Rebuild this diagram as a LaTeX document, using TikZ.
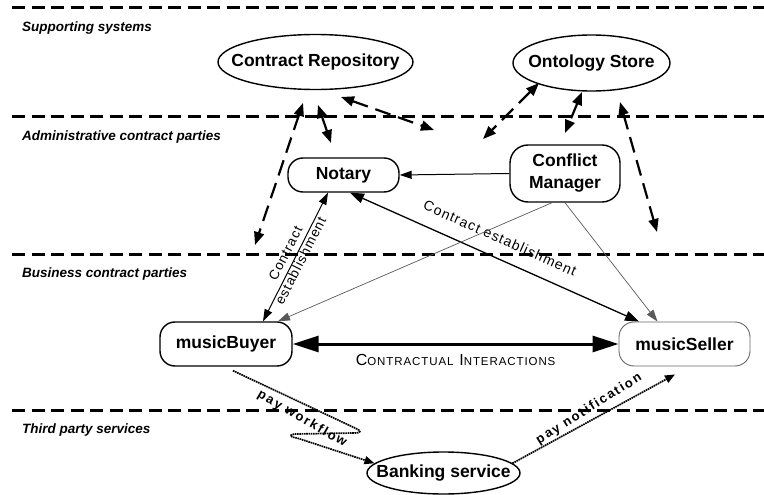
\documentclass[tikz,border=0pt]{standalone}
\usepackage{fontspec}
\setmainfont{Liberation Sans}
\newfontfamily\spacedsans[LetterSpace=8]{Liberation Sans}
\newfontfamily\widesans[LetterSpace=14]{Liberation Sans}
\usetikzlibrary{arrows.meta,shapes.geometric}

\tikzset{
  tbig/.tip={Triangle[length=26pt,width=16pt]},
  tmed/.tip={Triangle[length=14pt,width=10pt]},
  tsmall/.tip={Triangle[length=12pt,width=8pt]},
  tdash/.tip={Triangle[length=13pt,width=10pt]},
  tdot/.tip={Triangle[length=10pt,width=8pt]},
}

\begin{document}
\begin{tikzpicture}[x=1pt,y=-1pt,
  lane/.style={line width=3pt, dash pattern=on 13pt off 6.5pt},
  lanelabel/.style={anchor=base west, inner sep=0pt,
    font=\fontsize{13.5}{16}\selectfont\bfseries\itshape},
  nodefont/.style={font=\fontsize{17.5}{22}\selectfont\bfseries},
  store/.style={ellipse, draw, line width=1.4pt, inner sep=0pt},
  party/.style={draw, line width=1.4pt, rounded corners=15pt, align=center,
    nodefont, inner sep=0pt},
  contractual/.style={line width=3pt, tbig-tbig},
  estab/.style={line width=1.3pt, tmed-tmed},
  estabthin/.style={line width=1pt, tsmall-tsmall},
  cmlink/.style={line width=1pt, -tsmall},
  graylink/.style={draw=black!65, line width=0.7pt, -tsmall},
  dasharrow/.style={line width=2.2pt, dash pattern=on 16pt off 8pt, tdash-tdash},
  dotlink/.style={draw=black, line width=1.7pt, dash pattern=on 1.6pt off 0.7pt, -tdot},
  edgelabel/.style={inner sep=0pt, font=\spacedsans\fontsize{14}{16}\selectfont},
  paylabel/.style={inner sep=0pt, font=\widesans\fontsize{13}{15}\selectfont\bfseries},
]
\useasboundingbox (0,0) rectangle (764,495);

% swim lanes
\draw[lane] (12,8) -- (764,8);
\draw[lane] (12,117) -- (764,117);
\draw[lane] (12,254) -- (764,254);
\draw[lane] (12,410) -- (764,410);

\node[lanelabel] (lsup) at (22,32) {Supporting systems};
\node[lanelabel] (ladm) at (22,140) {Administrative contract parties};
\node[lanelabel] (lbus) at (22,277) {Business contract parties};
\node[lanelabel] (lthr) at (22,433) {Third party services};

% participants
\node[store, minimum width=195pt, minimum height=55pt,
      label={[nodefont]center:Contract Repository}] (repo) at (315.5,62) {};
\node[store, minimum width=157pt, minimum height=56pt,
      label={[nodefont]center:Ontology Store}] (onto) at (591.5,63) {};
\node[party, minimum width=111pt, minimum height=34pt] (notary) at (343.5,175) {Notary};
\node[party, minimum width=110pt, minimum height=57pt, rounded corners=18pt]
      (cm) at (565,173.5) {Conflict\\Manager};
\node[party, minimum width=132pt, minimum height=44pt] (buyer) at (226,344) {musicBuyer};
\node[party, draw=black!60, line width=0.9pt, minimum width=131pt, minimum height=44pt]
      (seller) at (684.5,344) {musicSeller};
\node[store, minimum width=153pt, minimum height=42pt,
      label={[nodefont]center:Banking service}] (bank) at (443.5,473) {};

% contractual interactions
\draw[contractual] (buyer.east) -- (seller.west)
  node[midway, yshift=-15.5pt, inner sep=0pt, font=\spacedsans\fontsize{16}{18}\selectfont] (ci)
  {C{\fontsize{11.5}{14}\selectfont ONTRACTUAL} I{\fontsize{11.5}{14}\selectfont NTERACTIONS}};

% administrative links
\draw[cmlink] (cm.west) -- (notary.east);
\draw[estab] ([xshift=6.5pt]notary.south) -- ([xshift=-45.5pt]seller.north);
\node[edgelabel, rotate=-24] (estabA) at (500,238) {Contract establishment};
\draw[estabthin] ([xshift=37pt]buyer.north) -- ([xshift=-15.5pt]notary.south);
\node[edgelabel, align=center, rotate=63, font=\spacedsans\fontsize{13.5}{17}\selectfont]
      (estabB) at (293,257) {Contract\\establishment};
\draw[graylink] ([xshift=-13pt]cm.south) -- ([xshift=52pt]buyer.north);
\draw[graylink] (cm.south) -- ([xshift=-27pt]seller.north);

% links to the supporting systems
\coordinate (ra) at (303,103);  \coordinate (rb) at (255,245);
\coordinate (rc) at (318,105);  \coordinate (rd) at (331,143);
\coordinate (re) at (341,97);   \coordinate (rf) at (434,130);
\coordinate (oa) at (539,83);   \coordinate (ob) at (483,139);
\coordinate (oc) at (582,92);   \coordinate (od) at (565,133);
\coordinate (oe) at (620,102);  \coordinate (of) at (657,232);
\draw[dasharrow] (ra) -- (rb);
\draw[dasharrow] (rc) -- (rd);
\draw[dasharrow] (re) -- (rf);
\draw[dasharrow] (oa) -- (ob);
\draw[dasharrow] (oc) -- (od);
\draw[dasharrow] (oe) -- (of);

% payment
\draw[dotlink] ([xshift=7pt,yshift=-4pt]buyer.south) -- (355,428)
  .. controls (362,431) and (361,433) .. (354,433) -- (296,434)
  .. controls (288,434.5) and (289,437) .. (297,438) -- (bank.172);
\node[paylabel, rotate=-30] (pw) at (302,419) {pay workflow};
\draw[dotlink] (bank.8) -- ([xshift=-9.5pt,yshift=-8pt]seller.south);
\node[paylabel, rotate=32] (pn) at (589,409) {pay notification};
\end{tikzpicture}
\end{document}
